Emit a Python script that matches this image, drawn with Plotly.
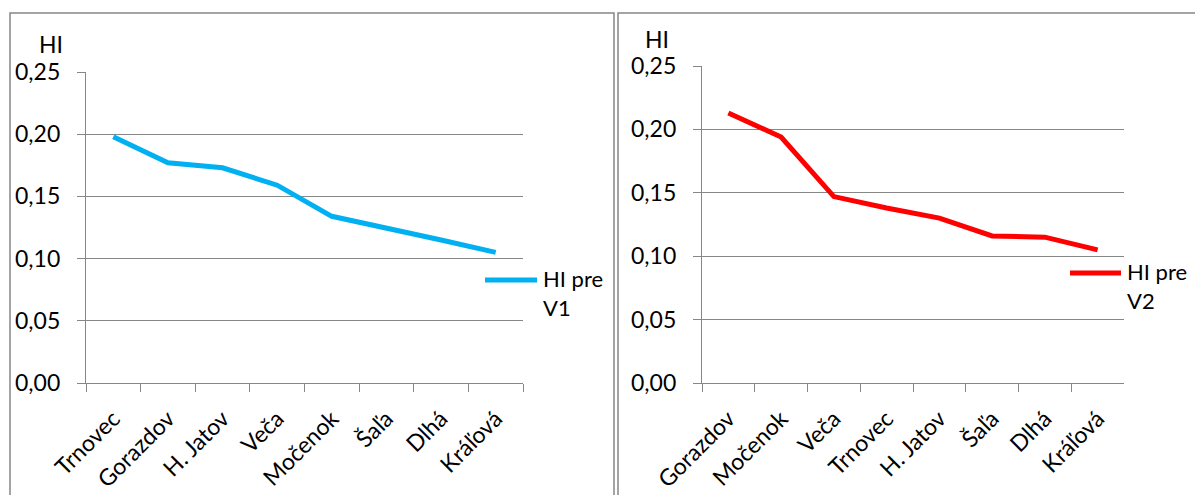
import plotly.graph_objects as go

W, H = 1195, 495

cats_v1 = ["Trnovec", "Gorazdov", "H. Jatov", "Veča", "Močenok", "Šaľa", "Dlhá", "Kráľová"]
hi_v1 = [0.198, 0.177, 0.173, 0.159, 0.134, 0.125, 0.115, 0.105]

cats_v2 = ["Gorazdov", "Močenok", "Veča", "Trnovec", "H. Jatov", "Šaľa", "Dlhá", "Kráľová"]
hi_v2 = [0.213, 0.194, 0.147, 0.138, 0.130, 0.116, 0.115, 0.105]

y_ticks = [0.0, 0.05, 0.10, 0.15, 0.20, 0.25]
legend_text_v1 = "HI pre<br>V1"
legend_text_v2 = "HI pre<br>V2"

FONT = "Lato, Open Sans, sans-serif"
FS = 23
GRID = "#878787"
TXT = "#000000"
BLUE = "#00B0F0"
RED = "#FF0000"


def px_x(p):
    return p / W


def px_y(p):
    return 1 - p / H


fig = go.Figure()
fig.add_trace(go.Scatter(x=cats_v1, y=hi_v1, mode="lines", name="HI pre V1",
                         line=dict(color=BLUE, width=5), xaxis="x", yaxis="y",
                         showlegend=False))
fig.add_trace(go.Scatter(x=cats_v2, y=hi_v2, mode="lines", name="HI pre V2",
                         line=dict(color=RED, width=5), xaxis="x2", yaxis="y2",
                         showlegend=False))

xcommon = dict(type="category", tickson="boundaries", ticks="outside", ticklen=8,
               tickcolor=GRID, tickwidth=1.3, showline=True, linecolor=GRID, linewidth=1.3,
               showgrid=False, tickangle=-45, range=[-0.5, 7.5], ticklabelstandoff=12,
               tickfont=dict(family=FONT, size=FS, color=TXT))
ycommon = dict(range=[0, 0.25], tickvals=y_ticks, tickformat=".2f", ticks="outside",
               ticklen=8, tickcolor=GRID, tickwidth=1.3, showline=True, linecolor=GRID,
               linewidth=1.3, showgrid=True, gridcolor=GRID, gridwidth=1.3, zeroline=False,
               ticklabelstandoff=12,
               tickfont=dict(family=FONT, size=FS, color=TXT))

annots = [
    dict(text="HI", x=px_x(51), y=px_y(44), xref="paper", yref="paper",
         xanchor="center", yanchor="middle", showarrow=False,
         font=dict(family=FONT, size=FS, color=TXT)),
    dict(text="HI", x=px_x(657), y=px_y(39), xref="paper", yref="paper",
         xanchor="center", yanchor="middle", showarrow=False,
         font=dict(family=FONT, size=FS, color=TXT)),
    dict(text=legend_text_v1, x=px_x(541), y=px_y(263), xref="paper", yref="paper",
         xanchor="left", yanchor="top", align="left", showarrow=False,
         font=dict(family=FONT, size=FS - 1, color=TXT)),
    dict(text=legend_text_v2, x=px_x(1125), y=px_y(256), xref="paper", yref="paper",
         xanchor="left", yanchor="top", align="left", showarrow=False,
         font=dict(family=FONT, size=FS - 1, color=TXT)),
]

shapes = [
    dict(type="rect", xref="paper", yref="paper", x0=px_x(10), x1=px_x(614),
         y0=px_y(530), y1=px_y(13), line=dict(color=GRID, width=1.5)),
    dict(type="rect", xref="paper", yref="paper", x0=px_x(618), x1=px_x(1230),
         y0=px_y(530), y1=px_y(13), line=dict(color=GRID, width=1.5)),
    dict(type="line", xref="paper", yref="paper", x0=px_x(485), x1=px_x(537),
         y0=px_y(280), y1=px_y(280), line=dict(color=BLUE, width=5)),
    dict(type="line", xref="paper", yref="paper", x0=px_x(1070), x1=px_x(1121),
         y0=px_y(273), y1=px_y(273), line=dict(color=RED, width=5)),
]

fig.update_layout(
    width=W, height=H,
    margin=dict(l=0, r=0, t=0, b=0, autoexpand=False),
    paper_bgcolor="white", plot_bgcolor="white",
    separators=", ",
    font=dict(family=FONT, size=FS, color=TXT),
    xaxis=dict(domain=[px_x(86), px_x(523)], anchor="y", **xcommon),
    yaxis=dict(domain=[px_y(383), px_y(72)], anchor="x", **ycommon),
    xaxis2=dict(domain=[px_x(702), px_x(1124)], anchor="y2", **xcommon),
    yaxis2=dict(domain=[px_y(383), px_y(66)], anchor="x2", **ycommon),
    showlegend=False,
    annotations=annots,
    shapes=shapes,
)

fig.write_html("out.html")
